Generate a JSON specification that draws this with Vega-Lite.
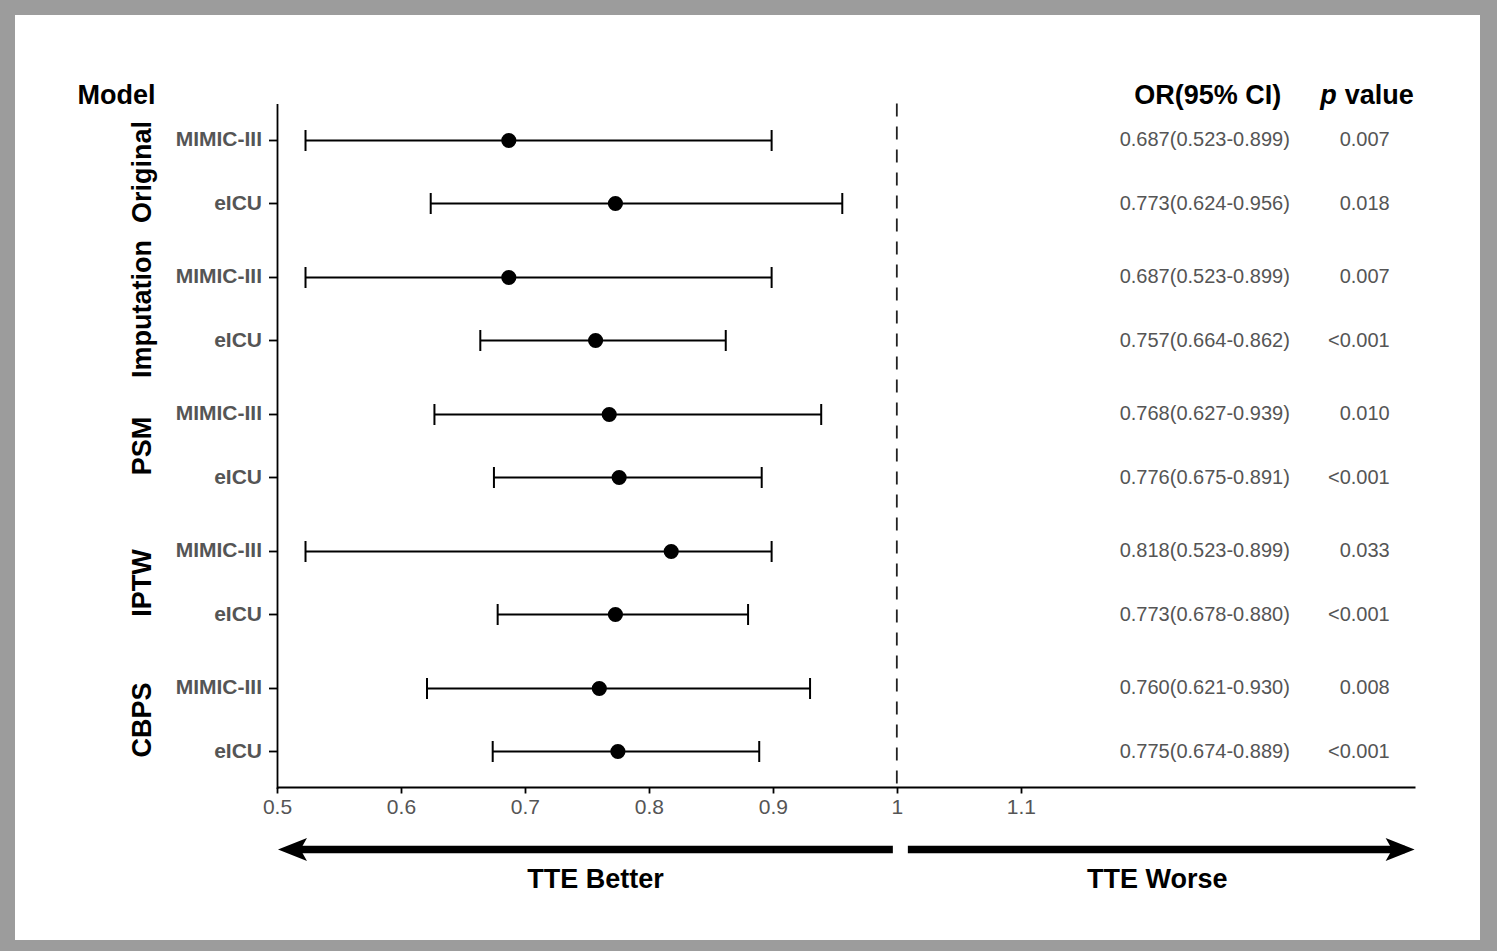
{
  "$schema": "https://vega.github.io/schema/vega-lite/v6.json",
  "width": 1465,
  "height": 925,
  "autosize": {"type": "none"},
  "padding": {"left": 15, "top": 15, "right": 17, "bottom": 11},
  "background": "#9c9c9c",
  "config": {"view": {"fill": "white", "stroke": null}, "font": "Liberation Sans", "text": {"font": "Liberation Sans"}},
  "datasets": {
    "rows": [
      {"model": "Original", "source": "MIMIC-III", "or": 0.687, "lo": 0.523, "hi": 0.899, "ci": "0.687(0.523-0.899)", "p": "0.007"},
      {"model": "Original", "source": "eICU", "or": 0.773, "lo": 0.624, "hi": 0.956, "ci": "0.773(0.624-0.956)", "p": "0.018"},
      {"model": "Imputation", "source": "MIMIC-III", "or": 0.687, "lo": 0.523, "hi": 0.899, "ci": "0.687(0.523-0.899)", "p": "0.007"},
      {"model": "Imputation", "source": "eICU", "or": 0.757, "lo": 0.664, "hi": 0.862, "ci": "0.757(0.664-0.862)", "p": "<0.001"},
      {"model": "PSM", "source": "MIMIC-III", "or": 0.768, "lo": 0.627, "hi": 0.939, "ci": "0.768(0.627-0.939)", "p": "0.010"},
      {"model": "PSM", "source": "eICU", "or": 0.776, "lo": 0.675, "hi": 0.891, "ci": "0.776(0.675-0.891)", "p": "<0.001"},
      {"model": "IPTW", "source": "MIMIC-III", "or": 0.818, "lo": 0.523, "hi": 0.899, "ci": "0.818(0.523-0.899)", "p": "0.033"},
      {"model": "IPTW", "source": "eICU", "or": 0.773, "lo": 0.678, "hi": 0.880, "ci": "0.773(0.678-0.880)", "p": "<0.001"},
      {"model": "CBPS", "source": "MIMIC-III", "or": 0.760, "lo": 0.621, "hi": 0.930, "ci": "0.760(0.621-0.930)", "p": "0.008"},
      {"model": "CBPS", "source": "eICU", "or": 0.775, "lo": 0.674, "hi": 0.889, "ci": "0.775(0.674-0.889)", "p": "<0.001"}
    ],
    "one": [{}]
  },
  "data": {"name": "rows"},
  "layer": [
    {
      "mark": {"type": "rule", "stroke": "black", "strokeWidth": 2},
      "encoding": {
        "x": {
          "field": "lo", "type": "quantitative",
          "scale": {"domain": [0.5, 1.418], "range": [262, 1400], "zero": false, "nice": false},
          "axis": {
            "orient": "bottom", "offset": -153, "title": null, "grid": false,
            "values": [0.5, 0.6, 0.7, 0.8, 0.9, 1, 1.1], "format": "~g",
            "domainColor": "black", "domainWidth": 1.8,
            "tickColor": "black", "tickWidth": 1.8, "tickSize": 6,
            "labelColor": "#555555", "labelFontSize": 21, "labelFont": "Liberation Sans",
            "labelPadding": 3, "labelFlush": false, "labelOverlap": false
          }
        },
        "x2": {"field": "hi"},
        "y": {
          "field": "model", "type": "nominal",
          "scale": {"domain": ["Original", "Imputation", "PSM", "IPTW", "CBPS"], "range": [88.5, 773.5], "paddingInner": 0, "paddingOuter": 0},
          "axis": {
            "orient": "left", "offset": -262,
            "title": "Model", "titleAngle": 0, "titleX": -161, "titleY": 88,
            "titleAlign": "center", "titleBaseline": "alphabetic",
            "titleFontSize": 27, "titleFontWeight": "bold", "titleColor": "black", "titleFont": "Liberation Sans",
            "ticks": false, "tickSize": 0, "grid": false,
            "labelAngle": -90, "labelAlign": "center", "labelBaseline": "middle", "labelPadding": 135,
            "labelFontSize": 27, "labelFontWeight": "bold", "labelColor": "black", "labelFont": "Liberation Sans",
            "domainColor": "black", "domainWidth": 1.8
          }
        },
        "yOffset": {"field": "source", "type": "nominal", "scale": {"type": "point", "domain": ["MIMIC-III", "eICU"], "padding": 0.5873}}
      }
    },
    {
      "mark": {"type": "tick", "orient": "vertical", "size": 21, "thickness": 2, "color": "black", "opacity": 1},
      "encoding": {
        "x": {"field": "lo", "type": "quantitative"},
        "y": {"field": "model", "type": "nominal"},
        "yOffset": {"field": "source", "type": "nominal"}
      }
    },
    {
      "mark": {"type": "tick", "orient": "vertical", "size": 21, "thickness": 2, "color": "black", "opacity": 1},
      "encoding": {
        "x": {"field": "hi", "type": "quantitative"},
        "y": {"field": "model", "type": "nominal"},
        "yOffset": {"field": "source", "type": "nominal"}
      }
    },
    {
      "mark": {"type": "point", "filled": true, "shape": "circle", "size": 230, "color": "black", "opacity": 1},
      "encoding": {
        "x": {"field": "or", "type": "quantitative"},
        "y": {"field": "model", "type": "nominal"},
        "yOffset": {"field": "source", "type": "nominal"}
      }
    },
    {
      "mark": {"type": "tick", "orient": "horizontal", "size": 8, "thickness": 1.8, "color": "black", "opacity": 1, "xOffset": -4},
      "encoding": {
        "x": {"datum": 0.5, "type": "quantitative"},
        "y": {"field": "model", "type": "nominal"},
        "yOffset": {"field": "source", "type": "nominal"}
      }
    },
    {
      "mark": {"type": "text", "align": "right", "baseline": "middle", "dx": -15, "fontSize": 21, "fontWeight": "bold", "color": "#555555"},
      "encoding": {
        "x": {"datum": 0.5, "type": "quantitative"},
        "y": {"field": "model", "type": "nominal"},
        "yOffset": {"field": "source", "type": "nominal"},
        "text": {"field": "source"}
      }
    },
    {
      "mark": {"type": "text", "align": "center", "baseline": "middle", "fontSize": 20, "color": "#555555"},
      "encoding": {
        "x": {"datum": 1.2484, "type": "quantitative"},
        "y": {"field": "model", "type": "nominal"},
        "yOffset": {"field": "source", "type": "nominal"},
        "text": {"field": "ci"}
      }
    },
    {
      "mark": {"type": "text", "align": "right", "baseline": "middle", "fontSize": 20, "color": "#555555"},
      "encoding": {
        "x": {"datum": 1.3976, "type": "quantitative"},
        "y": {"field": "model", "type": "nominal"},
        "yOffset": {"field": "source", "type": "nominal"},
        "text": {"field": "p"}
      }
    },
    {
      "data": {"name": "one"},
      "mark": {"type": "rule", "stroke": "#222222", "strokeWidth": 1.8, "strokeDash": [13, 10]},
      "encoding": {
        "x": {"datum": 1, "type": "quantitative"},
        "y": {"datum": "Original", "type": "nominal", "bandPosition": 0},
        "y2": {"datum": "CBPS", "bandPosition": 1}
      }
    },
    {
      "data": {"name": "one"},
      "mark": {"type": "text", "text": "OR(95% CI)", "align": "center", "baseline": "alphabetic", "fontSize": 27, "fontWeight": "bold", "color": "black"},
      "encoding": {
        "x": {"datum": 1.2508, "type": "quantitative"},
        "y": {"datum": "Original", "type": "nominal", "bandPosition": 0}
      }
    },
    {
      "data": {"name": "one"},
      "mark": {"type": "text", "text": "p", "align": "right", "baseline": "alphabetic", "fontSize": 27, "fontWeight": "bold", "fontStyle": "italic", "color": "black"},
      "encoding": {
        "x": {"datum": 1.3548, "type": "quantitative"},
        "y": {"datum": "Original", "type": "nominal", "bandPosition": 0}
      }
    },
    {
      "data": {"name": "one"},
      "mark": {"type": "text", "text": "value", "align": "left", "baseline": "alphabetic", "fontSize": 27, "fontWeight": "bold", "color": "black"},
      "encoding": {
        "x": {"datum": 1.3613, "type": "quantitative"},
        "y": {"datum": "Original", "type": "nominal", "bandPosition": 0}
      }
    },
    {
      "data": {"name": "one"},
      "mark": {"type": "rule", "stroke": "black", "strokeWidth": 7.5, "strokeCap": "butt", "yOffset": 61},
      "encoding": {
        "x": {"datum": 0.5105, "type": "quantitative"},
        "x2": {"datum": 0.9968},
        "y": {"datum": "CBPS", "type": "nominal", "bandPosition": 1}
      }
    },
    {
      "data": {"name": "one"},
      "mark": {"type": "rule", "stroke": "black", "strokeWidth": 7.5, "strokeCap": "butt", "yOffset": 61},
      "encoding": {
        "x": {"datum": 1.0089, "type": "quantitative"},
        "x2": {"datum": 1.4097},
        "y": {"datum": "CBPS", "type": "nominal", "bandPosition": 1}
      }
    },
    {
      "data": {"name": "one"},
      "mark": {"type": "point", "filled": true, "shape": "M -1 0 L 1 -0.8 L 0.55 0 L 1 0.8 Z", "size": 841, "color": "black", "opacity": 1, "strokeWidth": 0, "yOffset": 61},
      "encoding": {
        "x": {"datum": 0.5125, "type": "quantitative"},
        "y": {"datum": "CBPS", "type": "nominal", "bandPosition": 1}
      }
    },
    {
      "data": {"name": "one"},
      "mark": {"type": "point", "filled": true, "shape": "M 1 0 L -1 -0.8 L -0.55 0 L -1 0.8 Z", "size": 841, "color": "black", "opacity": 1, "strokeWidth": 0, "yOffset": 61},
      "encoding": {
        "x": {"datum": 1.406, "type": "quantitative"},
        "y": {"datum": "CBPS", "type": "nominal", "bandPosition": 1}
      }
    },
    {
      "data": {"name": "one"},
      "mark": {"type": "text", "text": "TTE Better", "align": "center", "baseline": "alphabetic", "fontSize": 27, "fontWeight": "bold", "color": "black", "yOffset": 99},
      "encoding": {
        "x": {"datum": 0.7569, "type": "quantitative"},
        "y": {"datum": "CBPS", "type": "nominal", "bandPosition": 1}
      }
    },
    {
      "data": {"name": "one"},
      "mark": {"type": "text", "text": "TTE Worse", "align": "center", "baseline": "alphabetic", "fontSize": 27, "fontWeight": "bold", "color": "black", "yOffset": 99},
      "encoding": {
        "x": {"datum": 1.2101, "type": "quantitative"},
        "y": {"datum": "CBPS", "type": "nominal", "bandPosition": 1}
      }
    }
  ]
}
